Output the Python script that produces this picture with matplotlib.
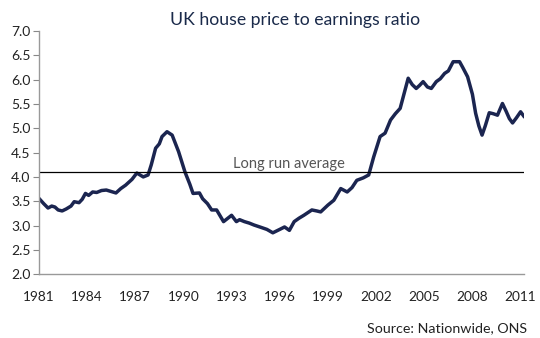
import matplotlib
matplotlib.use("Agg")
import matplotlib.pyplot as plt

plt.rcParams['font.family'] = ['Lato', 'DejaVu Sans']

# ratio (decimal year, ratio)
years = [1981.0, 1981.3, 1981.57, 1981.8, 1982.0, 1982.2, 1982.45, 1982.7, 1983.0, 1983.2,
         1983.5, 1983.7, 1983.9, 1984.1, 1984.35, 1984.6, 1984.9, 1985.2, 1985.5, 1985.8,
         1986.1, 1986.4, 1986.8, 1987.1, 1987.5, 1987.8, 1988.0, 1988.27, 1988.5, 1988.67,
         1988.98, 1989.3, 1989.7, 1990.1, 1990.4, 1990.6, 1991.0, 1991.2, 1991.5, 1991.76,
         1992.07, 1992.5, 1993.0, 1993.3, 1993.5, 1993.8, 1994.1, 1994.4, 1994.85, 1995.2,
         1995.57, 1996.0, 1996.3, 1996.6, 1996.9, 1997.2, 1997.5, 1998.0, 1998.3, 1998.55,
         1999.0, 1999.37, 1999.8, 2000.2, 2000.5, 2000.8, 2001.2, 2001.54, 2001.85, 2002.25,
         2002.56, 2002.9, 2003.2, 2003.5, 2004.0, 2004.25, 2004.5, 2004.7, 2004.93, 2005.2,
         2005.44, 2005.75, 2006.0, 2006.27, 2006.5, 2006.8, 2007.2, 2007.4, 2007.7, 2008.0,
         2008.2, 2008.4, 2008.6, 2008.8, 2009.05, 2009.3, 2009.56, 2009.87, 2010.1, 2010.3,
         2010.5, 2010.75, 2011.0, 2011.2]
ratio = [3.56, 3.45, 3.36, 3.40, 3.38, 3.32, 3.30, 3.34, 3.40, 3.49,
         3.47, 3.54, 3.66, 3.62, 3.69, 3.68, 3.72, 3.73, 3.70, 3.67,
         3.76, 3.83, 3.95, 4.08, 4.00, 4.04, 4.25, 4.59, 4.68, 4.83,
         4.93, 4.86, 4.52, 4.10, 3.85, 3.66, 3.67, 3.55, 3.45, 3.32,
         3.32, 3.08, 3.21, 3.08, 3.12, 3.08, 3.05, 3.01, 2.96, 2.92,
         2.85, 2.92, 2.97, 2.90, 3.08, 3.15, 3.21, 3.32, 3.30, 3.28,
         3.42, 3.52, 3.76, 3.69, 3.78, 3.93, 3.98, 4.04, 4.41, 4.83,
         4.90, 5.17, 5.30, 5.41, 6.03, 5.90, 5.82, 5.88, 5.96, 5.85,
         5.82, 5.96, 6.02, 6.13, 6.18, 6.37, 6.37, 6.25, 6.06, 5.70,
         5.31, 5.05, 4.86, 5.05, 5.32, 5.30, 5.27, 5.51, 5.35, 5.20,
         5.11, 5.22, 5.34, 5.25]
long_run_avg = 4.1
xticks = list(range(1981, 2012, 3))
yticks = [2.0, 2.5, 3.0, 3.5, 4.0, 4.5, 5.0, 5.5, 6.0, 6.5, 7.0]

fig = plt.figure(figsize=(5.4, 3.38), dpi=100)
ax = fig.add_axes([0.072, 0.189, 0.898, 0.719])

ax.plot(years, ratio, color='#1b2550', lw=2.5, solid_joinstyle='round')
ax.axhline(long_run_avg, color='black', lw=0.9)
ax.text(1993.1, long_run_avg + 0.03, 'Long run average', color='#555555',
        fontsize=10.5, va='bottom', ha='left')

ax.set_xlim(1981, 2011.2)
ax.set_ylim(2.0, 7.0)
ax.set_xticks(xticks)
ax.set_yticks(yticks)
ax.set_yticklabels(['%.1f' % v for v in yticks])
ax.tick_params(axis='x', length=0, pad=12, labelsize=9.8, colors='#222222')
ax.tick_params(axis='y', length=4, width=0.8, color='#888888', pad=2,
               labelsize=10, labelcolor='#222222')
for s in ['top', 'right']:
    ax.spines[s].set_visible(False)
for s in ['left', 'bottom']:
    ax.spines[s].set_color('#999999')
    ax.spines[s].set_linewidth(1.0)

fig.text(0.547, 0.94, 'UK house price to earnings ratio', ha='center',
         va='center', fontsize=12.7, color='#1a2a4a')
fig.text(0.976, 0.03, 'Source: Nationwide, ONS', ha='right', va='center',
         fontsize=10.3, color='#222222')

fig.savefig('out.png', dpi=100)
